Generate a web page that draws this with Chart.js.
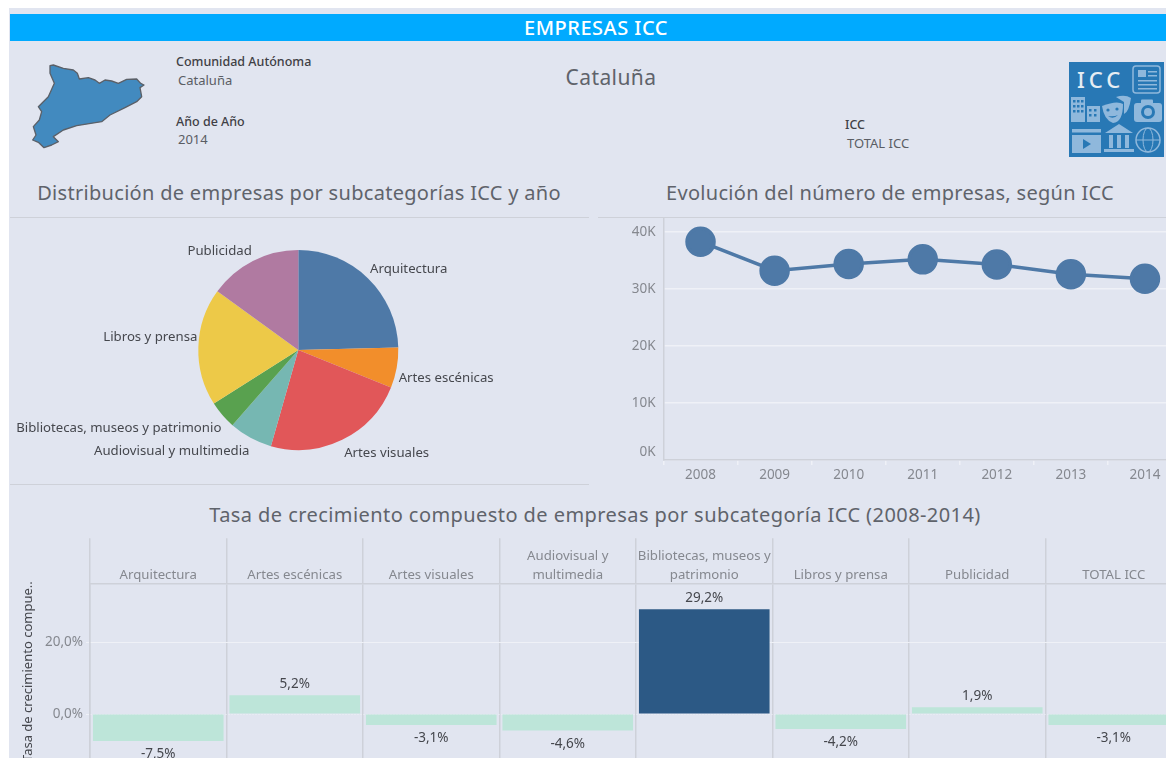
<!DOCTYPE html>
<html lang="es">
<head>
<meta charset="utf-8">
<title>Empresas ICC</title>
<script src="https://cdn.jsdelivr.net/npm/chart.js@4"></script>
<style>
    html, body { margin: 0; padding: 0; background: #fff; }
    body { position: relative; width: 1166px; height: 758px; overflow: hidden; font-family: "Noto Sans", sans-serif; }
    #board { position: absolute; left: 9px; top: 8px; width: 1157px; height: 750px; background: #e1e5f0; }
    #banner { position: absolute; left: 10px; top: 14px; width: 1140px; padding-left: 16px; height: 27px; line-height: 28px; background: #00aaff; color: #fff; font-size: 20px; font-weight: 500; letter-spacing: .5px; text-align: center; }
    .txt { position: absolute; white-space: nowrap; line-height: 1; }
    .filter-name { font-size: 12.5px; font-weight: 500; color: #3f4045; }
    .filter-value { font-size: 13px; color: #5a5d64; }
    .heading { font-size: 20px; letter-spacing: .3px; color: #5f636b; transform: translateX(-50%); }
    .rule { position: absolute; background: #ced1d9; height: 1px; }
    canvas { position: absolute; }
</style>
</head>
<body>
<div id="board"></div>
<div id="banner">EMPRESAS ICC</div>

<svg style="position:absolute;left:20px;top:55px" width="135" height="100" viewBox="0 0 405 300">
    <polygon fill="#428abf" stroke="#5b6068" stroke-width="4" stroke-linejoin="round"
        points="90,32 100,30 130,40 160,45 172,55 178,72 205,68 225,75 238,85 255,75 275,78 295,85 320,73 350,72 362,85 372,90 360,98 365,125 350,140 315,158 270,180 245,200 170,212 130,225 100,245 115,260 95,270 72,278 55,262 38,255 48,240 40,215 58,195 65,170 55,155 85,125 103,85 90,55"/>
</svg>

<div class="txt filter-name" style="left:176px;top:56px">Comunidad Autónoma</div>
<div class="txt filter-value" style="left:178px;top:74px">Cataluña</div>
<div class="txt filter-name" style="left:176px;top:116px">Año de Año</div>
<div class="txt filter-value" style="left:178px;top:133px">2014</div>
<div class="txt filter-name" style="left:845px;top:119px">ICC</div>
<div class="txt filter-value" style="left:847px;top:137px">TOTAL ICC</div>

<div class="txt" style="left:611px;top:67px;font-size:21px;letter-spacing:.4px;color:#5f636b;transform:translateX(-50%)">Cataluña</div>

<svg style="position:absolute;left:1069px;top:62px" width="95" height="95" viewBox="0 0 95 95">
    <rect width="95" height="95" fill="#2878b5"/>
    <text x="8" y="26" font-family="Noto Sans" font-weight="500" font-size="22" letter-spacing="4" fill="#e6edf3">ICC</text>
    <g fill="#8fb8dc">
        <rect x="64" y="4" width="27" height="27" rx="3" fill="none" stroke="#8fb8dc" stroke-width="1.5"/>
        <rect x="69" y="8" width="8" height="7"/>
        <rect x="79" y="9" width="9" height="1.5"/>
        <rect x="79" y="13" width="9" height="1.5"/>
        <rect x="69" y="18" width="19" height="1.5"/>
        <rect x="69" y="22" width="19" height="1.5"/>
        <rect x="69" y="26" width="19" height="1.5"/>
        <rect x="2" y="35" width="14" height="25"/>
        <rect x="18" y="44" width="13" height="16"/>
        <path d="M33 44 Q48 38 54 42 Q54 60 44 61 Q35 58 33 44Z"/>
        <path d="M47 35 Q56 32 62 36 Q60 50 55 52 L55 40Z"/>
        <rect x="65" y="41" width="28" height="19" rx="3"/>
        <rect x="72" y="37.5" width="12" height="5" rx="1"/>
        <rect x="3" y="67" width="29" height="3.5"/>
        <rect x="3" y="73" width="29" height="18"/>
        <path d="M36 71 L50 62 L64 71Z"/>
        <rect x="40" y="73" width="4" height="13"/>
        <rect x="48" y="73" width="4" height="13"/>
        <rect x="56" y="73" width="4" height="13"/>
        <rect x="35" y="87" width="30" height="3"/>
    </g>
    <g fill="#2878b5">
        <rect x="4" y="38" width="2.5" height="2.5"/><rect x="8" y="38" width="2.5" height="2.5"/><rect x="12" y="38" width="2.5" height="2.5"/>
        <rect x="4" y="43" width="2.5" height="2.5"/><rect x="8" y="43" width="2.5" height="2.5"/><rect x="12" y="43" width="2.5" height="2.5"/>
        <rect x="4" y="48" width="2.5" height="2.5"/><rect x="8" y="48" width="2.5" height="2.5"/><rect x="12" y="48" width="2.5" height="2.5"/>
        <rect x="20" y="47" width="2.5" height="2.5"/><rect x="25" y="47" width="2.5" height="2.5"/>
        <rect x="20" y="52" width="2.5" height="2.5"/><rect x="25" y="52" width="2.5" height="2.5"/>
        <circle cx="39" cy="48" r="1.6"/><circle cx="48" cy="47" r="1.6"/>
        <path d="M39 54 Q44 58 49 53 Q45 55 39 54Z"/>
        <path d="M14 77 L22 82 L14 87Z"/>
        <circle cx="79" cy="50" r="7"/>
    </g>
    <circle cx="79" cy="50" r="4" fill="#8fb8dc"/>
    <circle cx="79" cy="78" r="12" fill="none" stroke="#8fb8dc" stroke-width="1.5"/>
    <ellipse cx="79" cy="78" rx="5" ry="12" fill="none" stroke="#8fb8dc" stroke-width="1"/>
    <path d="M67 78 H91" stroke="#8fb8dc" stroke-width="1"/>
</svg>

<div class="txt heading" style="left:299px;top:183px">Distribución de empresas por subcategorías ICC y año</div>
<div class="txt heading" style="left:890px;top:183px">Evolución del número de empresas, según ICC</div>
<div class="txt heading" style="left:595px;top:505px;letter-spacing:.43px">Tasa de crecimiento compuesto de empresas por subcategoría ICC (2008-2014)</div>

<div class="rule" style="left:10px;top:217px;width:579px"></div>
<div class="rule" style="left:598px;top:217px;width:568px"></div>
<div class="rule" style="left:10px;top:484px;width:579px"></div>

<canvas id="pieEmpresas" style="left:10px;top:218px;width:579px;height:265px"></canvas>
<canvas id="lineaEvolucion" style="left:598px;top:217px;width:584px;height:273px"></canvas>
<canvas id="barrasTasa" style="left:10px;top:538px;width:1172px;height:222px"></canvas>

<script>
// subcategorias, empresas en 2014
const pieLabels = ["Arquitectura", "Artes escénicas", "Artes visuales", "Audiovisual y multimedia", "Bibliotecas, museos y patrimonio", "Libros y prensa", "Publicidad"];
const pieValues = [7820, 2075, 7410, 2235, 1450, 6035, 4775];

// evolucion total
const years = ["2008", "2009", "2010", "2011", "2012", "2013", "2014"];
const companies = [38300, 33200, 34400, 35200, 34300, 32600, 31800];
const lineTicks = [0, 10000, 20000, 30000, 40000];

// tasa de crecimiento compuesto
const rateLabels = ["Arquitectura", "Artes escénicas", "Artes visuales", ["Audiovisual y", "multimedia"], ["Bibliotecas, museos y", "patrimonio"], "Libros y prensa", "Publicidad", "TOTAL ICC"];
const rateValues = [-7.5, 5.2, -3.1, -4.6, 29.2, -4.2, 1.9, -3.1];
const rateTicks = [0, 20];

const fontName = '"Noto Sans", sans-serif';
const tickGrey = "#85888f";
const labelDark = "#45474d";
const gridLight = "#eff1f7";
const ruleGrey = "#ced1d9";

Chart.defaults.font.family = fontName;
Chart.defaults.animation = false;
Chart.defaults.responsive = false;

function decimalComma(v) {
    return v.toFixed(1).replace(".", ",") + "%";
}

function sizeCanvas(id) {
    let c = document.getElementById(id);
    c.width = parseFloat(c.style.width);
    c.height = parseFloat(c.style.height);
    return c.getContext("2d");
}

// quita el margen que Chart.js reserva para las etiquetas de los extremos
function noPadding(s) {
    s.paddingTop = 0;
    s.paddingBottom = 0;
    s.paddingLeft = 0;
    s.paddingRight = 0;
}

// etiquetas del pie, fuera del circulo
const pieLabelPlugin = {
    id: "pieLabelPlugin",
    afterDatasetsDraw(chart) {
        let ctx = chart.ctx;
        ctx.save();
        ctx.font = "13.2px " + fontName;
        ctx.fillStyle = labelDark;
        ctx.textBaseline = "middle";
        chart.getDatasetMeta(0).data.forEach((arc, i) => {
            let mid = (arc.startAngle + arc.endAngle) / 2;
            let px = arc.x + Math.cos(mid) * arc.outerRadius;
            let py = arc.y + Math.sin(mid) * arc.outerRadius;
            let sin = Math.sin(mid);
            let right = Math.cos(mid) > 0;
            ctx.textAlign = right ? "left" : "right";
            ctx.fillText(pieLabels[i], px + (right ? 2 : -1), py + (sin > 0.5 ? 13.5 : sin > 0 ? 10.5 : -9.5));
        });
        ctx.restore();
    }
};

// valor encima o debajo de cada barra
const barLabelPlugin = {
    id: "barLabelPlugin",
    afterDatasetsDraw(chart) {
        let ctx = chart.ctx;
        ctx.save();
        ctx.font = "13.5px " + fontName;
        ctx.fillStyle = labelDark;
        ctx.textAlign = "center";
        ctx.textBaseline = "middle";
        chart.getDatasetMeta(0).data.forEach((bar, i) => {
            let v = rateValues[i];
            ctx.fillText(decimalComma(v), bar.x, bar.y + (v < 0 ? 13.5 : -11));
        });
        ctx.restore();
    }
};

new Chart(sizeCanvas("pieEmpresas"), {
    type: "pie",
    plugins: [pieLabelPlugin],
    data: {
        labels: pieLabels,
        datasets: [{
            data: pieValues,
            backgroundColor: ["#4e79a7", "#f28e2b", "#e15759", "#76b7b2", "#59a14f", "#edc948", "#b07aa1"],
            borderWidth: 0
        }]
    },
    options: {
        layout: { padding: { top: 32, bottom: 33, left: 0, right: 2.4 } },
        plugins: { legend: { display: false }, tooltip: { enabled: false } }
    }
});

new Chart(sizeCanvas("lineaEvolucion"), {
    type: "line",
    data: {
        labels: years,
        datasets: [{
            data: companies,
            borderColor: "#4e79a7",
            backgroundColor: "#4e79a7",
            borderWidth: 3.5,
            pointRadius: 13.5,
            tension: 0
        }]
    },
    options: {
        layout: { padding: 0, autoPadding: false },
        plugins: { legend: { display: false }, tooltip: { enabled: false } },
        scales: {
            x: {
                offset: true,
                afterFit: s => { s.height = 30; noPadding(s); },
                grid: { offset: true, drawOnChartArea: false, tickLength: 5, tickColor: gridLight, lineWidth: 1.5 },
                border: { color: ruleGrey, width: 1.5 },
                ticks: { color: tickGrey, font: { size: 13.5 }, padding: 2, maxRotation: 0 }
            },
            y: {
                min: 0,
                max: 42630,
                afterFit: s => { s.width = 65.5; noPadding(s); },
                afterBuildTicks: s => { s.ticks = lineTicks.map(v => ({ value: v })); },
                grid: { color: gridLight, lineWidth: 1.5, drawTicks: false },
                border: { color: ruleGrey, width: 1.5 },
                ticks: {
                    color: tickGrey,
                    font: { size: 13.5 },
                    padding: 8,
                    // el 0K sube para no pisar el eje
                    callback: v => v === 0 ? ["0K", ""] : (v / 1000) + "K"
                }
            }
        }
    }
});

new Chart(sizeCanvas("barrasTasa"), {
    type: "bar",
    plugins: [barLabelPlugin],
    data: {
        labels: rateLabels,
        datasets: [{
            data: rateValues,
            backgroundColor: rateValues.map(v => v > 20 ? "#2c5985" : "#bde5d9"),
            barPercentage: 0.957,
            categoryPercentage: 1
        }]
    },
    options: {
        layout: { padding: 0, autoPadding: false },
        plugins: { legend: { display: false }, tooltip: { enabled: false } },
        scales: {
            x: {
                position: "top",
                afterFit: s => { s.height = 45.3; noPadding(s); },
                grid: { offset: true, color: ruleGrey, lineWidth: 1.5, tickLength: 45 },
                border: { color: ruleGrey, width: 1.5 },
                ticks: {
                    color: tickGrey,
                    font: { size: 13.2, lineHeight: 1.44 },
                    padding: -46,
                    autoSkip: false,
                    maxRotation: 0
                }
            },
            y: {
                min: -12.83,
                max: 36.46,
                afterFit: s => { s.width = 80; noPadding(s); },
                afterBuildTicks: s => { s.ticks = rateTicks.map(v => ({ value: v })); },
                title: {
                    display: true,
                    text: "Tasa de crecimiento compue..",
                    color: labelDark,
                    font: { size: 13 },
                    padding: { top: 10, bottom: 0 }
                },
                grid: {
                    color: gridLight,
                    lineWidth: 1,
                    tickLength: 4
                },
                border: { color: ruleGrey, width: 1.5, dash: c => c.tick && c.tick.value === 0 ? [1, 2] : [] },
                ticks: {
                    color: tickGrey,
                    font: { size: 13.5 },
                    padding: 3,
                    callback: v => decimalComma(v)
                }
            }
        }
    }
});
</script>
</body>
</html>
